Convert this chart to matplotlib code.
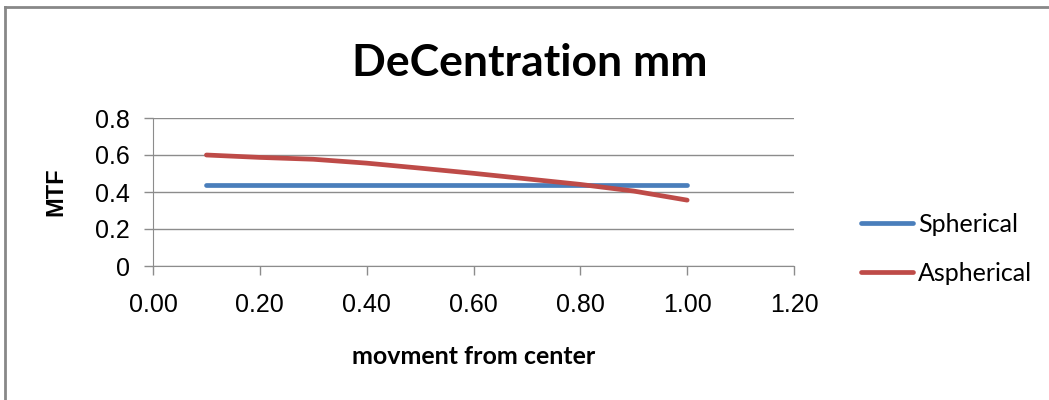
import matplotlib.pyplot as plt
from matplotlib.lines import Line2D

# values
movement = [0.1, 0.2, 0.3, 0.4, 0.5, 0.6, 0.7, 0.8, 0.9, 1.0]
spherical = [0.44, 0.44, 0.44, 0.44, 0.44, 0.44, 0.44, 0.44, 0.44, 0.44]
aspherical = [0.60, 0.587, 0.577, 0.556, 0.529, 0.501, 0.471, 0.441, 0.405, 0.356]

x_ticks = [0.0, 0.2, 0.4, 0.6, 0.8, 1.0, 1.2]
x_labels = ['0.00', '0.20', '0.40', '0.60', '0.80', '1.00', '1.20']
y_ticks = [0.0, 0.2, 0.4, 0.6, 0.8]
y_labels = ['0', '0.2', '0.4', '0.6', '0.8']

blue = '#4a7ebb'
red = '#be4b48'
grid_grey = '#8c8c8c'

fig = plt.figure(figsize=(10.49, 4.0), dpi=100)
ax = fig.add_axes([153 / 1049, 134 / 400, 641 / 1049, 148 / 400])

ax.plot(movement, spherical, color=blue, lw=3.4, solid_capstyle='round', label='Spherical')
ax.plot(movement, aspherical, color=red, lw=3.4, solid_capstyle='round', label='Aspherical')

ax.set_xlim(0, 1.2)
ax.set_ylim(0, 0.8)
ax.set_xticks(x_ticks, x_labels, fontsize=18, family='Liberation Sans')
ax.set_yticks(y_ticks, y_labels, fontsize=18, family='Liberation Sans')
ax.yaxis.grid(True, color=grid_grey, lw=1)
ax.set_axisbelow(True)
for side in ['top', 'right']:
    ax.spines[side].set_visible(False)
for side in ['left', 'bottom']:
    ax.spines[side].set_color(grid_grey)
ax.tick_params(axis='both', color=grid_grey, length=6.5, width=1)
ax.tick_params(axis='x', pad=13)
ax.tick_params(axis='y', pad=10)

ax.set_ylabel('MTF', fontsize=17, fontweight='bold', family='Liberation Sans', labelpad=20)
ax.set_xlabel('movment from center', fontsize=18, fontweight='bold', family='Lato', labelpad=20)

fig.text(530 / 1049, 1 - 63 / 400, 'DeCentration mm', ha='center', va='center',
         fontsize=32, fontweight='bold', family='Lato')

handles = [Line2D([], [], color=blue, lw=3.4, solid_capstyle='round'),
           Line2D([], [], color=red, lw=3.4, solid_capstyle='round')]
fig.legend(handles, ['Spherical', 'Aspherical'], loc='center left',
           bbox_to_anchor=(838 / 1049, 1 - 249 / 400), frameon=False,
           prop={'family': 'Lato', 'size': 18}, handlelength=2.1,
           handletextpad=0.2, labelspacing=1.05)

# outer chart frame (only top and left edges are inside the picture)
fig.add_artist(Line2D([5 / 1049, 5 / 1049], [0, 1 - 7 / 400], color='#888888', lw=2,
                      transform=fig.transFigure))
fig.add_artist(Line2D([5 / 1049, 1], [1 - 7 / 400, 1 - 7 / 400], color='#888888', lw=2,
                      transform=fig.transFigure))

fig.savefig('out.png', dpi=100)
